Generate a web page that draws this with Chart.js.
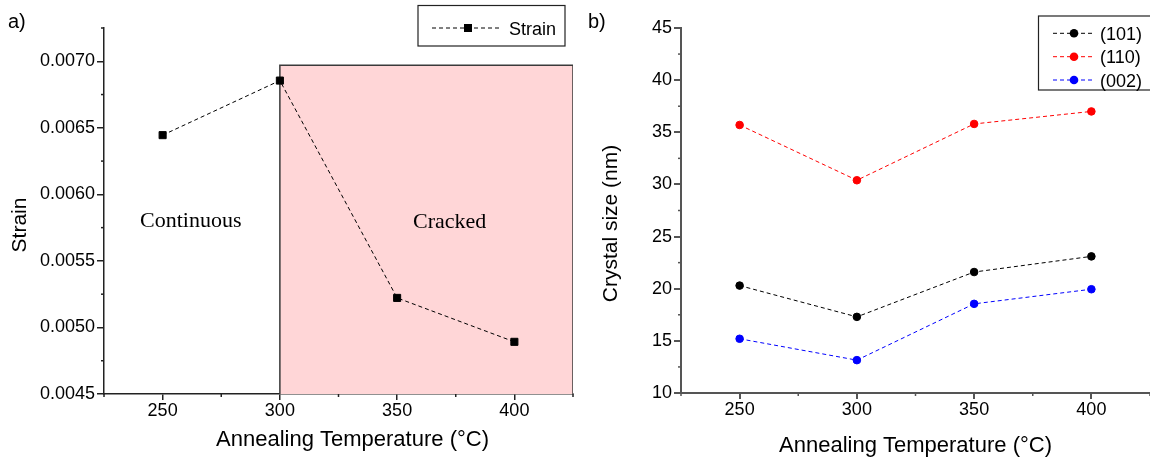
<!DOCTYPE html>
<html>
<head>
<meta charset="utf-8">
<script src="https://cdn.jsdelivr.net/npm/chart.js@4.4.1/dist/chart.umd.min.js"></script>
<style>
html, body { margin: 0; padding: 0; background: #fff; overflow: hidden; }
#wrap { position: relative; width: 1150px; height: 462px; overflow: hidden; font-family: 'Liberation Sans', Arial, sans-serif; color: #000; }
canvas { position: absolute; top: 0; }
.lbl { position: absolute; white-space: nowrap; color: #000; }
.serif { font-family: 'Liberation Serif', 'Times New Roman', serif; }
#overlay { position: absolute; left: 0; top: 0; pointer-events: none; }
</style>
</head>
<body>
<div id="wrap">
  <canvas id="chartA" width="580" height="462" style="left:0px"></canvas>
  <canvas id="chartB" width="570" height="462" style="left:580px"></canvas>
  <svg id="overlay" width="1150" height="462" xmlns="http://www.w3.org/2000/svg"></svg>
  <div class="lbl" style="left:8px;top:11.4px;font-size:20px;line-height:20px;">a)</div>
  <div class="lbl" style="left:588px;top:11.4px;font-size:20px;line-height:20px;">b)</div>
  <div class="lbl serif" style="left:140px;top:208.6px;font-size:22px;line-height:22px;">Continuous</div>
  <div class="lbl serif" style="left:413px;top:209.5px;font-size:22px;line-height:22px;">Cracked</div>
</div>
<script>
// ---------------- data ----------------
const temperatures = [250, 300, 350, 400];
const strainValues = [0.006445, 0.006855, 0.005222, 0.004892];
const size101 = [20.3, 17.3, 21.6, 23.1];
const size110 = [35.7, 30.4, 35.8, 37.0];
const size002 = [15.2, 13.15, 18.55, 19.95];
const crackedRegionX = [300, 300, 425, 425];
const crackedRegionY = [0.0045, 0.00697, 0.00697, 0.0045];
const seriesNames = ['(101)', '(110)', '(002)'];
const seriesColors = ['#000000', '#FF0000', '#0000FF'];
const strainTickValues = [0.0045, 0.0050, 0.0055, 0.0060, 0.0065, 0.0070];
const sizeTickValues = [10, 15, 20, 25, 30, 35, 40, 45];
const tempTickValues = [250, 300, 350, 400];

// ---------------- helpers ----------------
Chart.defaults.font.family = "'Liberation Sans', Arial, sans-serif";
Chart.defaults.color = '#000';

const toPoints = (xs, ys) => xs.map((x, i) => ({ x: x, y: ys[i] }));

const minorTickPlugin = {
  id: 'minorTicks',
  afterDraw(chart, args, opts) {
    const ctx = chart.ctx;
    ctx.save();
    ctx.strokeStyle = opts.color;
    ctx.lineWidth = opts.width;
    for (const id of ['x', 'y']) {
      const s = chart.scales[id];
      const step = opts[id];
      const n = Math.round((s.max - s.min) / step);
      for (let i = 0; i <= n; i++) {
        const v = s.min + i * step;
        if (s.ticks.some(t => Math.abs(t.value - v) < step / 100)) continue;
        const p = s.getPixelForValue(v);
        ctx.beginPath();
        if (id === 'x') { ctx.moveTo(p, s.top); ctx.lineTo(p, s.top + opts.length); }
        else { ctx.moveTo(s.right, p); ctx.lineTo(s.right - opts.length, p); }
        ctx.stroke();
      }
    }
    ctx.restore();
  }
};

// shifts an axis title along its axis (the source figure's titles are not centred on the axes)
const titleShiftPlugin = {
  id: 'titleShift',
  afterLayout(chart, args, opts) {
    for (const id of ['x', 'y']) {
      const s = chart.scales[id];
      const d = opts[id] || 0;
      if (!d || s._shiftWrapped) continue;
      const orig = s.drawTitle;
      s.drawTitle = function () {
        const ctx = this.ctx;
        ctx.save();
        if (id === 'x') ctx.translate(d, 0); else ctx.translate(0, d);
        orig.apply(this, arguments);
        ctx.restore();
      };
      s._shiftWrapped = true;
    }
  }
};

function makeX(axisColor, axisWidth, fitHeight, titlePadBottom) {
  return {
    type: 'linear', min: 225, max: 425,
    afterBuildTicks: s => { s.ticks = tempTickValues.map(v => ({ value: v })); },
    afterFit: s => { s.height = fitHeight; },
    grid: { drawOnChartArea: false, drawTicks: true, tickLength: 6, color: axisColor, lineWidth: axisWidth },
    border: { display: true, color: axisColor, width: axisWidth },
    ticks: { font: { size: 18 }, color: '#000', padding: 0, maxRotation: 0, autoSkip: false },
    title: { display: true, text: 'Annealing Temperature (°C)', font: { size: 22 }, color: '#000', padding: { top: 0, bottom: titlePadBottom } }
  };
}

function makeY(min, max, tickValues, fmt, axisColor, axisWidth, fitWidth, titleText, titlePadTop) {
  return {
    type: 'linear', min: min, max: max,
    afterBuildTicks: s => { s.ticks = tickValues.map(v => ({ value: v })); },
    afterFit: s => { s.width = fitWidth; },
    grid: { drawOnChartArea: false, drawTicks: true, tickLength: 7, color: axisColor, lineWidth: axisWidth },
    border: { display: true, color: axisColor, width: axisWidth },
    ticks: { font: { size: 18 }, color: '#000', padding: 2, autoSkip: false, callback: fmt },
    title: { display: true, text: titleText, font: { size: 21 }, color: '#000', padding: { top: titlePadTop, bottom: 0 } }
  };
}

const commonOpts = {
  responsive: false,
  animation: false,
  devicePixelRatio: 1,
  events: []
};

// ---------------- chart a) ----------------
new Chart(document.getElementById('chartA'), {
  type: 'line',
  data: {
    datasets: [
      {
        label: 'Strain',
        data: toPoints(temperatures, strainValues),
        borderColor: '#000', borderWidth: 1, borderDash: [4, 3],
        pointStyle: 'rect', pointRadius: 5, pointBorderWidth: 1,
        pointBackgroundColor: '#000', pointBorderColor: '#000',
        fill: false, tension: 0, order: 1
      },
      {
        label: 'Cracked region',
        data: toPoints(crackedRegionX, crackedRegionY),
        borderColor: '#3a3a3a', borderWidth: 1.5,
        backgroundColor: '#FFD6D7',
        pointRadius: 0, fill: 'start', tension: 0, order: 2
      }
    ]
  },
  options: Object.assign({}, commonOpts, {
    layout: { autoPadding: false, padding: { left: 0, right: 7, top: 28, bottom: 0 } },
    plugins: { legend: { display: false }, tooltip: { enabled: false },
      minorTicks: { x: 25, y: 0.00025, length: 3, color: '#222', width: 1.5 },
      titleShift: { x: 14, y: 14 } },
    scales: {
      x: makeX('#222', 1.5, 68, 8.7),
      y: makeY(0.0045, 0.00725, strainTickValues, v => Number(v).toFixed(4), '#222', 1.5, 104, 'Strain', 8)
    }
  }),
  plugins: [minorTickPlugin, titleShiftPlugin]
});

// ---------------- chart b) ----------------
const sizeSeries = [size101, size110, size002];
new Chart(document.getElementById('chartB'), {
  type: 'line',
  data: {
    datasets: sizeSeries.map((vals, i) => ({
      label: seriesNames[i],
      data: toPoints(temperatures, vals),
      borderColor: seriesColors[i], borderWidth: 1, borderDash: [4, 3],
      pointStyle: 'circle', pointRadius: 3.8, pointBorderWidth: 1,
      pointBackgroundColor: seriesColors[i], pointBorderColor: seriesColors[i],
      fill: false, tension: 0
    }))
  },
  options: Object.assign({}, commonOpts, {
    layout: { autoPadding: false, padding: { left: 0, right: 0, top: 28, bottom: 0 } },
    plugins: { legend: { display: false }, tooltip: { enabled: false },
      minorTicks: { x: 25, y: 2.5, length: 3, color: '#555', width: 1.5 },
      titleShift: { x: 0, y: 13 } },
    scales: {
      x: makeX('#555', 2, 69, 3.1),
      y: makeY(10, 45, sizeTickValues, v => String(Math.round(v)), '#555', 2, 101, 'Crystal size (nm)', 18.8)
    }
  }),
  plugins: [minorTickPlugin, titleShiftPlugin]
});

// ---------------- legends (HTML/SVG, text kept as real text) ----------------
const svgNS = 'http://www.w3.org/2000/svg';
const overlay = document.getElementById('overlay');
const wrap = document.getElementById('wrap');
function svgEl(tag, attrs) {
  const e = document.createElementNS(svgNS, tag);
  for (const k in attrs) e.setAttribute(k, attrs[k]);
  overlay.appendChild(e);
  return e;
}
function legendBox(x, y, w, h) {
  svgEl('rect', { x: x, y: y, width: w, height: h, fill: '#fff', stroke: '#222', 'stroke-width': 1.2 });
}
function legendEntry(label, color, marker, x0, x1, mx, cy, textX) {
  svgEl('line', { x1: x0, y1: cy, x2: x1, y2: cy, stroke: color, 'stroke-width': 1, 'stroke-dasharray': '4 3' });
  if (marker === 'rect') svgEl('rect', { x: mx - 4, y: cy - 4, width: 8, height: 8, fill: color });
  else svgEl('circle', { cx: mx, cy: cy, r: 4.3, fill: color });
  const t = document.createElement('div');
  t.className = 'lbl';
  t.style.left = textX + 'px';
  t.style.top = (cy + 0.5 - 8.8) + 'px';
  t.style.fontSize = '18px';
  t.style.lineHeight = '18px';
  t.textContent = label;
  wrap.appendChild(t);
}
legendBox(418, 5.5, 147, 40.5);
legendEntry('Strain', '#000', 'rect', 432, 502, 468, 28, 509);
legendBox(1038.5, 16, 130, 74);
seriesNames.forEach((name, i) => {
  legendEntry(name, seriesColors[i], 'circle', 1053, 1093, 1074, [33.3, 56.7, 80][i], 1100);
});
</script>
</body>
</html>
